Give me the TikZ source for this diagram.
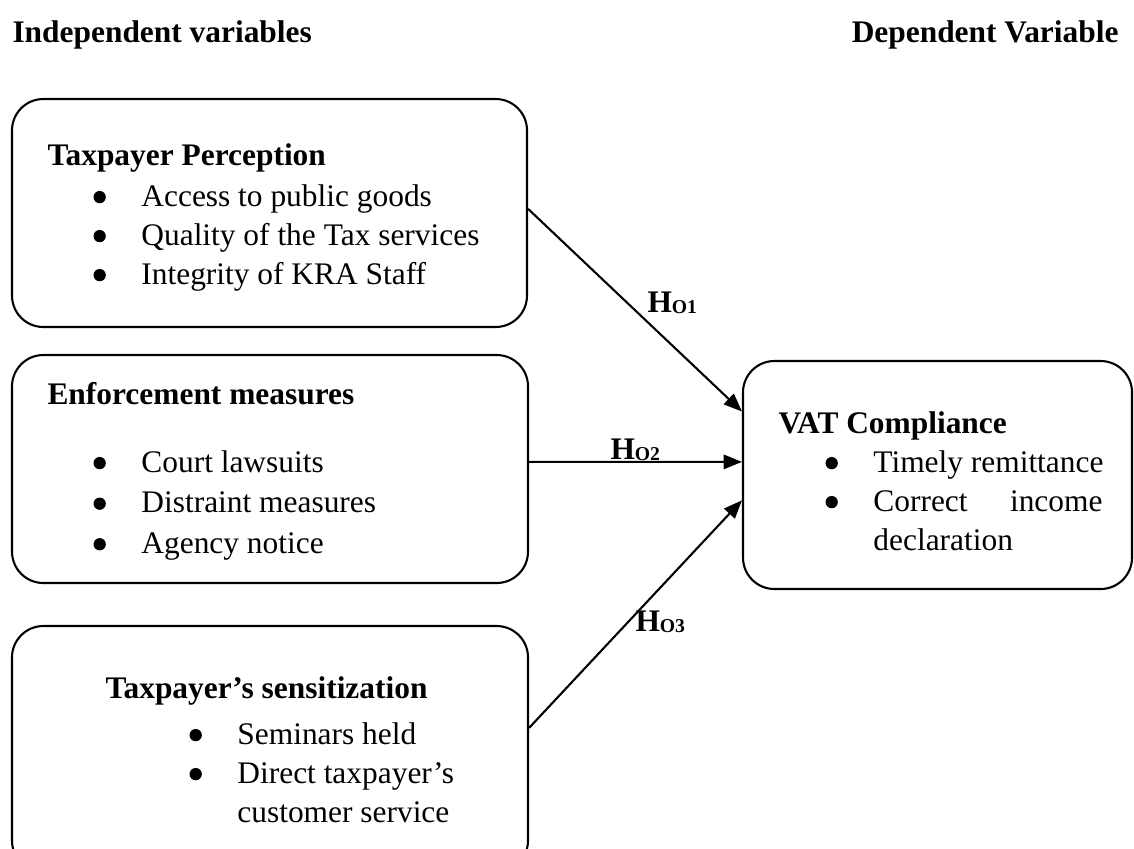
\documentclass[tikz,border=0pt]{standalone}
\usepackage{fontspec}
\setmainfont{Liberation Serif}
\usetikzlibrary{arrows.meta,fit,calc}
\newlength{\bulw}
\setlength{\bulw}{18.3pt}
\newcommand{\bul}{\makebox[\bulw][l]{\tikz[baseline=0pt]\fill (2.45pt,3.4pt) circle[radius=2.35pt];}}
\newcommand{\lst}[1]{\begin{tabular}[t]{@{}l@{}}#1\end{tabular}}
\begin{document}
\begin{tikzpicture}[x=0.382pt,y=-0.382pt,
  box/.style={draw, line width=0.8pt, rounded corners=12pt, inner sep=0pt},
  txt/.style={anchor=base west, inner sep=0pt, font=\fontsize{12}{14.9}\selectfont},
  ttl/.style={txt, font=\fontsize{12}{14.9}\selectfont\bfseries},
  lbl/.style={anchor=base west, inner sep=0pt, font=\fontsize{12}{14}\selectfont\bfseries},
  arr/.style={line width=0.8pt, -{Triangle[length=7pt,width=5.5pt]}}]
\clip (0,0) rectangle (1134,848);
% headers
\node[ttl] (hl) at (12,42) {Independent variables};
\node[ttl, anchor=base east] (hr) at (1119,42) {Dependent Variable};
% boxes
\coordinate (b1a) at (12,99);  \coordinate (b1b) at (527,327);
\coordinate (b2a) at (12,355); \coordinate (b2b) at (528,583);
\coordinate (b3a) at (12,626); \coordinate (b3b) at (528,872);
\coordinate (b4a) at (743,361); \coordinate (b4b) at (1132,589);
\node[box, fit=(b1a)(b1b)] (b1) {};
\node[box, fit=(b2a)(b2b)] (b2) {};
\node[box, fit=(b3a)(b3b)] (b3) {};
\node[box, fit=(b4a)(b4b)] (b4) {};
% box 1
\node[ttl] (t1) at (47,165) {Taxpayer Perception};
\node[txt] (l1) at (93,206) {\lst{\bul Access to public goods\\ \bul Quality of the Tax services\\ \bul Integrity of KRA Staff}};
% box 2
\node[ttl] (t2) at (47,404) {Enforcement measures};
\node[txt, font=\fontsize{12}{15.5}\selectfont] (l2) at (93,472) {\lst{\bul Court lawsuits\\ \bul Distraint measures\\ \bul Agency notice}};
% box 3
\node[ttl] (t3) at (105,698) {Taxpayer’s sensitization};
\node[txt] (l3) at (189,744) {\lst{\bul Seminars held\\ \bul Direct taxpayer’s\\ \hspace*{\bulw}customer service}};
% box 4
\node[ttl] (t4) at (778,433) {VAT Compliance};
\node[txt] (l4) at (825,472) {\lst{\bul Timely remittance\\ \bul \makebox[87.5pt][l]{Correct\hfill income}\\ \hspace*{\bulw}declaration}};
% arrows
\draw[arr] ($(b1.north east)!0.482!(b1.south east)$) -- ($(b4.north west)!0.224!(b4.south west)$);
\draw[arr] ($(b2.north east)!0.469!(b2.south east)$) -- ($(b4.north west)!0.443!(b4.south west)$);
\draw[arr] ($(b3.north east)!0.415!(b3.south east)$) -- ($(b4.north west)!0.61!(b4.south west)$);
% labels
\node[lbl] (h1) at (647,312) {H\raisebox{-0.5pt}{\fontsize{7.5}{8}\selectfont O1}};
\node[lbl] (h2) at (610,459) {H\raisebox{-0.5pt}{\fontsize{7.5}{8}\selectfont O2}};
\node[lbl] (h3) at (635,631) {H\raisebox{-0.5pt}{\fontsize{7.5}{8}\selectfont O3}};
\end{tikzpicture}
\end{document}
